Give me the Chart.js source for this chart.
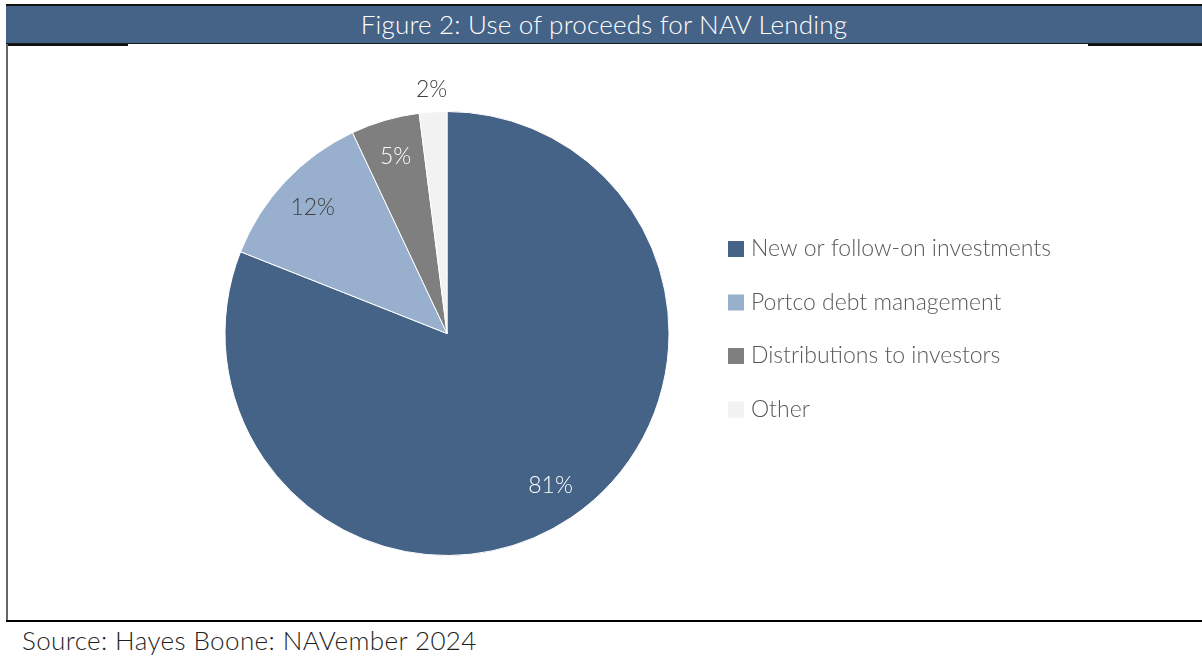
<!DOCTYPE html>
<html>
<head>
<meta charset="utf-8">
<script src="https://cdn.jsdelivr.net/npm/chart.js@4"></script>
<style>
  body { margin: 0; width: 1202px; height: 658px; background: #fff; position: relative; overflow: hidden; font-family: Lato, "Open Sans", sans-serif; }
  .topline { position: absolute; left: 6px; top: 4px; width: 1196px; height: 2px; background: #111; }
  .header { position: absolute; left: 6px; top: 6px; width: 1196px; height: 37px; background: #456287; border-bottom: 1px solid #1a1a1a;
            color: #fff; font-size: 26px; font-weight: 300; text-align: center; line-height: 37px; letter-spacing: 0.2px; }
  .ul { position: absolute; top: 44px; height: 2px; background: #111; }
  .leftline { position: absolute; left: 6px; top: 44px; width: 2px; height: 577px; background: #666; }
  .bottomline { position: absolute; left: 6px; top: 620px; width: 1196px; height: 2px; background: #000; }
  .source { position: absolute; left: 22px; top: 622px; font-size: 26px; font-weight: 300; color: #1f1f1f; line-height: 36px; letter-spacing: 0.4px; }
  #wrap { position: absolute; left: 8px; top: 45px; width: 1194px; height: 575px; }
</style>
</head>
<body>
<div class="topline"></div>
<div class="header">Figure 2: Use of proceeds for NAV Lending</div>
<div class="ul" style="left:6px;width:122px"></div>
<div class="ul" style="left:1088px;width:114px"></div>
<div class="leftline"></div>
<div class="bottomline"></div>
<div class="source">Source: Hayes Boone: NAVember 2024</div>
<div id="wrap"><canvas id="pieChart"></canvas></div>
<script>
var categories = ['New or follow-on investments', 'Portco debt management', 'Distributions to investors', 'Other'];
var shares = [81, 12, 5, 2];
var sliceColors = ['#456287', '#98b0cd', '#7f7f7f', '#f2f2f2'];
var labelColors = ['#ffffff', '#404040', '#ffffff', '#404040'];

// percent labels on the slices
var sliceLabels = {
  id: 'sliceLabels',
  afterDatasetsDraw: function(chart) {
    var ctx = chart.ctx;
    var meta = chart.getDatasetMeta(0);
    ctx.save();
    ctx.font = '300 23px Lato, "Open Sans", sans-serif';
    ctx.textAlign = 'center';
    ctx.textBaseline = 'middle';
    meta.data.forEach(function(arc, i) {
      var mid = (arc.startAngle + arc.endAngle) / 2;
      var f = shares[i] < 3 ? 1.1 : 0.83;
      var x = arc.x + Math.cos(mid) * arc.outerRadius * f;
      var y = arc.y + Math.sin(mid) * arc.outerRadius * f;
      ctx.fillStyle = labelColors[i];
      ctx.fillText(shares[i] + '%', x, y);
    });
    ctx.restore();
  }
};

// legend on the right
var sideLegend = {
  id: 'sideLegend',
  afterDraw: function(chart) {
    var ctx = chart.ctx;
    ctx.save();
    ctx.font = '300 23px Lato, "Open Sans", sans-serif';
    ctx.textBaseline = 'middle';
    categories.forEach(function(name, i) {
      var y = 204 + i * 53.5;
      ctx.fillStyle = sliceColors[i];
      ctx.fillRect(720, y - 8, 16, 16);
      ctx.fillStyle = '#595959';
      ctx.fillText(name, 743, y);
    });
    ctx.restore();
  }
};

var pieChart = new Chart(document.getElementById('pieChart'), {
  type: 'pie',
  data: {
    labels: categories,
    datasets: [{
      data: shares,
      backgroundColor: sliceColors,
      borderColor: '#ffffff',
      borderWidth: 1
    }]
  },
  options: {
    responsive: true,
    maintainAspectRatio: false,
    animation: false,
    layout: { padding: { left: 216, right: 532, top: 66, bottom: 64 } },
    plugins: {
      legend: { display: false },
      tooltip: { enabled: false }
    }
  },
  plugins: [sliceLabels, sideLegend]
});
</script>
</body>
</html>
